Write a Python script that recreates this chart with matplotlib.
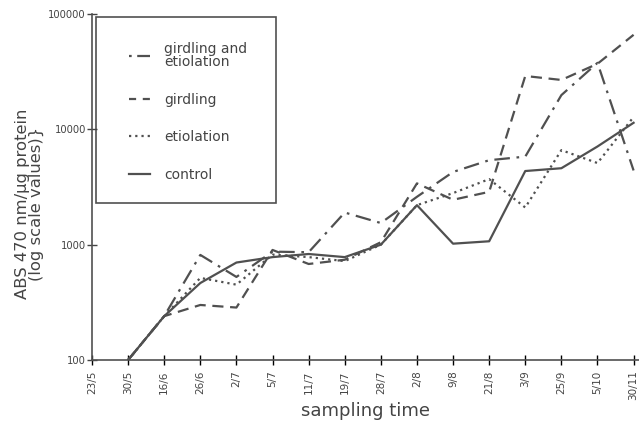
import numpy as np
from matplotlib import pyplot as plt
from matplotlib.patches import Rectangle
from matplotlib.lines import Line2D

# sampling dates and absorbance values (log scale)
dates = ['23/5', '30/5', '16/6', '26/6', '2/7', '5/7', '11/7', '19/7',
         '28/7', '2/8', '9/8', '21/8', '3/9', '25/9', '5/10', '30/11']
girdling_etiolation = [np.nan, 100, 240, 815, 525, 870, 860, 1900,
                       1540, 2600, 4270, 5400, 5800, 19800, 37700, 4400]
girdling = [np.nan, 100, 240, 300, 285, 900, 680, 740,
            1050, 3400, 2450, 2870, 29000, 26800, 37000, 66000]
etiolation = [np.nan, 100, 240, 515, 450, 820, 780, 720,
              1000, 2200, 2800, 3700, 2100, 6600, 5100, 12800]
control = [np.nan, 100, 240, 465, 700, 780, 830, 780,
           1000, 2200, 1020, 1070, 4350, 4600, 7100, 11400]
labels = ['girdling and\netiolation', 'girdling', 'etiolation', 'control']

x = np.arange(len(dates))
col = '#505050'
tcol = '#444444'
styles = [(0, (7, 3, 1.2, 3)), (0, (5, 3)), (0, (1, 1.8)), '-']
# shorter patterns for the small legend handles
leg_styles = [(0, (1.2, 2.5, 7, 3)), (0, (3.2, 3)), (0, (1, 1.8)), '-']

fig = plt.figure(figsize=(6.39, 4.37), dpi=100)
ax = fig.add_axes([92/639, 77/437, 547/639, 346/437])

for vals, ls in zip([girdling_etiolation, girdling, etiolation, control], styles):
    ax.plot(x, vals, color=col, lw=1.6, linestyle=ls)

ax.set_yscale('log')
ax.set_ylim(100, 100000)
ax.set_xlim(0, 15.15)
ax.set_yticks([100, 1000, 10000, 100000])
ax.set_yticklabels(['100', '1000', '10000', '100000'])
ax.minorticks_off()
ax.set_xticks(x)
ax.set_xticklabels(dates, rotation=90, fontsize=7.5, color=tcol)
ax.tick_params(axis='y', direction='inout', length=7, width=1, labelsize=7.2, colors=tcol, pad=1)
ax.tick_params(axis='x', direction='inout', length=7, width=1, pad=4)

ax.spines['right'].set_visible(False)
ax.spines['top'].set_visible(False)
ax.spines['left'].set_color(col)
ax.spines['bottom'].set_color(col)
ax.spines['left'].set_linewidth(1.2)
ax.spines['bottom'].set_linewidth(1.2)

ax.set_xlabel('sampling time', fontsize=13, color=tcol)
ax.xaxis.set_label_coords(0.50, -0.12)
ax.set_ylabel('ABS 470 nm/\u03bcg protein\n(log scale values)}', fontsize=11.8,
              color=tcol, linespacing=0.9)
ax.yaxis.set_label_coords(-0.088, 0.45)

# legend box
ax.add_patch(Rectangle((4/547, (360-203)/346), 180/547, 186/346, transform=ax.transAxes,
                       fill=False, edgecolor=col, lw=1.2, clip_on=False))
handles = [Line2D([], [], color=col, lw=1.6, linestyle=ls) for ls in leg_styles]
leg = ax.legend(handles, labels,
                loc='upper left', bbox_to_anchor=(0.045, 0.955), frameon=False,
                fontsize=10, handlelength=1.5, labelspacing=1.7, handletextpad=1.0)
for t in leg.get_texts():
    t.set_color(tcol)
    t.set_linespacing(0.9)

plt.savefig('out.png', dpi=100)
